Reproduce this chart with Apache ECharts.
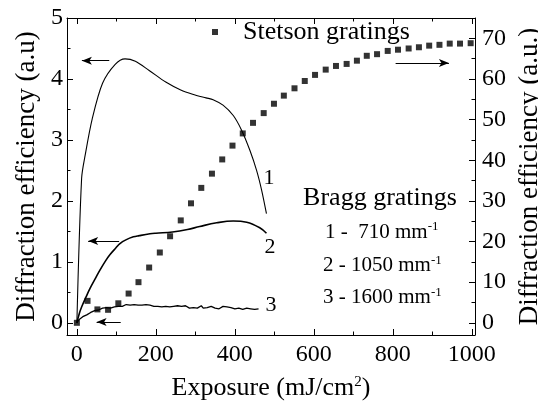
<!DOCTYPE html>
<html>
<head>
<meta charset="utf-8">
<script src="https://cdn.jsdelivr.net/npm/echarts@6/dist/echarts.min.js"></script>
<style>
html,body{margin:0;padding:0;background:#fff;}
#chart{width:538px;height:402px;}
</style>
</head>
<body>
<div id="chart"></div>
<script>
// ---- data ----
// Stetson gratings (right axis)
const stetsonX = [0,27,52,79,105,131,156,183,210,236,263,289,315,342,368,394,420,446,473,499,524,551,577,603,630,656,683,709,734,760,787,813,840,866,892,918,944,970,997];
const stetsonY = [0,5.4,3.3,3.2,4.8,7.2,10.0,13.6,17.3,21.3,25.2,29.4,33.2,36.7,40.2,43.6,46.6,49.2,51.6,53.9,55.9,57.7,59.5,61.0,62.3,63.2,63.7,64.5,65.7,66.1,66.9,67.2,67.5,67.8,68.2,68.4,68.7,68.7,68.8];

// Bragg grating 1 (710 mm-1)
const curve1X = [0,12,21,39,65,97,122,148,183,225,263,293,327,345,370,396,417,438,455,468,480];
const curve1Y = [0,2.37,2.75,3.35,3.93,4.24,4.33,4.29,4.14,3.95,3.82,3.75,3.69,3.66,3.57,3.40,3.16,2.83,2.50,2.17,1.79];

// Bragg grating 2 (1050 mm-1)
const curve2X = [0,6,12,23,33,48,58,73,84,99,109,124,143,158,185,200,242,280,311,354,396,430,463,480];
const curve2Y = [0,0.15,0.26,0.42,0.56,0.74,0.86,1.02,1.12,1.23,1.30,1.36,1.41,1.43,1.46,1.47,1.49,1.53,1.58,1.64,1.67,1.65,1.56,1.47];

// Bragg grating 3 (1600 mm-1), noisy trace
const curve3X = [0,5,10,15,20,25,30,35,40,45,50,55,60,65,70,75,80,85,90,95,100,105,110,115,120,125,130,135,140,145,150,155,160,165,170,175,180,185,190,195,200,205,210,215,220,225,230,235,240,245,250,255,260,265,270,275,280,285,290,295,300,305,310,315,320,325,330,335,340,345,350,355,360,365,370,375,380,385,390,395,400,405,410,415,420,425,430,435,440,445,450,455,460];
const curve3Y = [0,0.05,0.07,0.10,0.11,0.13,0.14,0.17,0.18,0.20,0.22,0.21,0.23,0.24,0.23,0.25,0.26,0.24,0.27,0.26,0.28,0.27,0.29,0.27,0.28,0.30,0.27,0.29,0.28,0.30,0.28,0.29,0.27,0.29,0.28,0.30,0.27,0.29,0.28,0.27,0.29,0.27,0.28,0.26,0.28,0.27,0.29,0.26,0.28,0.27,0.25,0.28,0.26,0.27,0.25,0.28,0.26,0.24,0.27,0.25,0.27,0.24,0.26,0.28,0.24,0.26,0.25,0.23,0.27,0.25,0.24,0.26,0.23,0.25,0.27,0.24,0.26,0.23,0.25,0.27,0.23,0.25,0.24,0.26,0.22,0.25,0.24,0.26,0.23,0.25,0.22,0.24,0.23];

// arrows (data coordinates): [x tail, x head, y]
const arrowsLeft = [[82,12.7,4.30],[107,28.6,1.34],[111,50,0.013]];
const arrowRight = [807,942,63.9];

const xTickStep = 200, yLeftStep = 1, yRightStep = 10;

// ---- build ----
const zip = (a,b) => a.map((v,i)=>[v,b[i]]);
const FONT = 'Liberation Serif';

const axisCommon = {
  axisLine:{show:true,onZero:false,lineStyle:{color:'#000',width:1}},
  axisTick:{show:true,inside:true,length:6,lineStyle:{color:'#000',width:1}},
  minorTick:{show:true,splitNumber:2,length:3.5,lineStyle:{color:'#000',width:1}},
  splitLine:{show:false},
  minorSplitLine:{show:false}
};

const chart = echarts.init(document.getElementById('chart'), null, {renderer:'canvas'});
chart.setOption({
  animation:false,
  backgroundColor:'#fff',
  textStyle:{fontFamily:FONT},
  grid:{left:67,right:63,top:18,bottom:67,containLabel:false,outerBoundsMode:'none'},
  legend:{
    show:true,
    data:[{name:'Stetson gratings',icon:'rect'}],
    left:207,top:14,
    itemWidth:6,itemHeight:6,
    selectedMode:false,
    textStyle:{fontFamily:FONT,fontSize:26,color:'#000',padding:[0,0,0,20]}
  },
  xAxis:[
    Object.assign({},axisCommon,{
      type:'value',position:'bottom',min:-25,max:1008,splitNumber:5,
      name:'Exposure (mJ/cm{sup|2})',nameLocation:'middle',nameGap:40,
      nameTextStyle:{fontFamily:FONT,fontSize:26,color:'#000',
        rich:{sup:{fontFamily:FONT,fontSize:15,color:'#000',verticalAlign:'top',padding:[0,0,12,0]}}},
      axisLabel:{show:true,margin:8,fontFamily:FONT,fontSize:24,color:'#000',
        formatter:v=> (Math.abs(v % xTickStep) < 1e-6 ? String(v) : '')}
    }),
    Object.assign({},axisCommon,{
      type:'value',position:'top',min:-25,max:1008,splitNumber:5,
      axisLabel:{show:false}
    })
  ],
  yAxis:[
    Object.assign({},axisCommon,{
      type:'value',position:'left',min:-0.2,max:5,splitNumber:5,
      name:'Diffraction efficiency (a.u)',nameLocation:'middle',nameGap:27,
      nameTextStyle:{fontFamily:FONT,fontSize:27,color:'#000'},
      axisLabel:{show:true,margin:4,fontFamily:FONT,fontSize:24,color:'#000',
        formatter:v=> (Math.abs(v - Math.round(v/yLeftStep)*yLeftStep) < 1e-6 ? String(Math.round(v)) : '')}
    }),
    Object.assign({},axisCommon,{
      type:'value',position:'right',min:-3,max:75,splitNumber:8,
      name:'Diffraction efficiency (a.u.)',nameLocation:'middle',nameGap:39,
      nameTextStyle:{fontFamily:FONT,fontSize:27,color:'#000'},
      axisLabel:{show:true,margin:7,fontFamily:FONT,fontSize:24,color:'#000',
        formatter:v=> (Math.abs(v % yRightStep) < 1e-6 && v>=0 && v<=70 ? String(v) : '')}
    })
  ],
  series:[
    {
      name:'Bragg 1',type:'line',xAxisIndex:0,yAxisIndex:0,data:zip(curve1X,curve1Y),
      showSymbol:false,smooth:0.3,lineStyle:{color:'#000',width:1.1},
      markLine:{silent:true,symbol:['none','arrow'],symbolSize:[6,10],
        label:{show:false},lineStyle:{color:'#000',width:1,type:'solid'},
        data:arrowsLeft.map(a=>[{coord:[a[0],a[2]]},{coord:[a[1],a[2]]}])}
    },
    {
      name:'Bragg 2',type:'line',xAxisIndex:0,yAxisIndex:0,data:zip(curve2X,curve2Y),
      showSymbol:false,smooth:0.4,lineStyle:{color:'#000',width:1.6}
    },
    {
      name:'Bragg 3',type:'line',xAxisIndex:0,yAxisIndex:0,data:zip(curve3X,curve3Y),
      showSymbol:false,smooth:false,lineStyle:{color:'#000',width:1.3}
    },
    {
      name:'Stetson gratings',type:'scatter',xAxisIndex:0,yAxisIndex:1,data:zip(stetsonX,stetsonY),
      symbol:'rect',symbolSize:6,itemStyle:{color:'#000'},z:5,
      markLine:{silent:true,symbol:['none','arrow'],symbolSize:[6,10],
        label:{show:false},lineStyle:{color:'#000',width:1,type:'solid'},
        data:[[{coord:[arrowRight[0],arrowRight[2]]},{coord:[arrowRight[1],arrowRight[2]]}]]}
    }
  ],
  graphic:[
    {type:'text',x:269,y:178,style:{text:'1',font:'22px '+FONT,fill:'#000',textAlign:'center',textVerticalAlign:'middle'}},
    {type:'text',x:270,y:247,style:{text:'2',font:'22px '+FONT,fill:'#000',textAlign:'center',textVerticalAlign:'middle'}},
    {type:'text',x:271,y:305,style:{text:'3',font:'22px '+FONT,fill:'#000',textAlign:'center',textVerticalAlign:'middle'}},
    {type:'text',x:380,y:198,style:{text:'Bragg gratings',font:'26px '+FONT,fill:'#000',textAlign:'center',textVerticalAlign:'middle'}},
    {type:'text',x:325,y:232,style:{text:'1 -  710 mm{sup|-1}',font:'21px '+FONT,fill:'#000',textAlign:'left',textVerticalAlign:'middle',
      rich:{sup:{font:'13px '+FONT,fill:'#000',verticalAlign:'top',padding:[0,0,10,0]}}}},
    {type:'text',x:323,y:265.5,style:{text:'2 - 1050 mm{sup|-1}',font:'21px '+FONT,fill:'#000',textAlign:'left',textVerticalAlign:'middle',
      rich:{sup:{font:'13px '+FONT,fill:'#000',verticalAlign:'top',padding:[0,0,10,0]}}}},
    {type:'text',x:323,y:297.5,style:{text:'3 - 1600 mm{sup|-1}',font:'21px '+FONT,fill:'#000',textAlign:'left',textVerticalAlign:'middle',
      rich:{sup:{font:'13px '+FONT,fill:'#000',verticalAlign:'top',padding:[0,0,10,0]}}}}
  ]
});
</script>
</body>
</html>
